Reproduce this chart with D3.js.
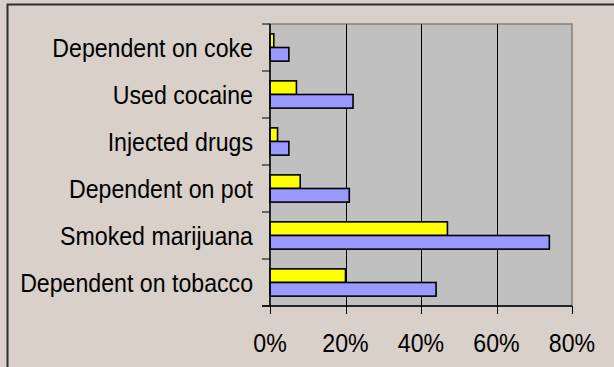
<!DOCTYPE html>
<html>
<head>
<meta charset="utf-8">
<script src="https://cdn.jsdelivr.net/npm/d3@7"></script>
<style>
  html, body { margin: 0; padding: 0; background: #d8d0c9; }
  svg { display: block; }
  text { font-family: "Liberation Sans", Arial, sans-serif; fill: #000; }
</style>
</head>
<body>
<svg id="chart" width="614" height="367"></svg>
<script>
const categories = ["Dependent on coke", "Used cocaine", "Injected drugs", "Dependent on pot", "Smoked marijuana", "Dependent on tobacco"];
const seriesNames = ["Series 1", "Series 2"];
const series1 = [0.01, 0.07, 0.02, 0.08, 0.47, 0.20];   // yellow
const series2 = [0.05, 0.22, 0.05, 0.21, 0.74, 0.44];   // blue
const xTicks = [0, 0.2, 0.4, 0.6, 0.8];
const colors = ["#ffff00", "#9999ff"];

const svg = d3.select("#chart");
const W = 614, H = 367;
const plot = { left: 270, right: 572, top: 24, bottom: 306 };

// background + frame
svg.append("rect").attr("width", W).attr("height", H).attr("fill", "#d8d0c9");
svg.append("path")
  .attr("d", `M7.5,${H} L7.5,4.5 L${W},4.5`)
  .attr("fill", "none").attr("stroke", "#2e2e2e").attr("stroke-width", 2);

const x = d3.scaleLinear().domain([0, 0.8]).range([plot.left, plot.right]);
const y = d3.scaleBand().domain(categories).range([plot.top, plot.bottom])
  .paddingInner(0.42).paddingOuter(0.21);
const ySub = d3.scaleBand().domain(seriesNames).range([0, y.bandwidth()]).padding(0);

// plot area
svg.append("rect")
  .attr("x", plot.left).attr("y", plot.top)
  .attr("width", plot.right - plot.left).attr("height", plot.bottom - plot.top)
  .attr("fill", "#c0c0c0").attr("stroke", "#808080").attr("stroke-width", 1.5);

// gridlines
svg.append("g").selectAll("line").data(xTicks.filter(d => d > 0 && d < 0.8)).join("line")
  .attr("x1", d => Math.round(x(d)) + 0.5).attr("x2", d => Math.round(x(d)) + 0.5)
  .attr("y1", plot.top).attr("y2", plot.bottom)
  .attr("stroke", "#000").attr("stroke-width", 1);

// bars
const data = categories.map((c, i) => ({ cat: c, vals: [series1[i], series2[i]] }));
const groups = svg.append("g").selectAll("g").data(data).join("g")
  .attr("transform", d => `translate(0,${y(d.cat)})`);
groups.selectAll("rect").data(d => d.vals.map((v, j) => ({ v, s: seriesNames[j], j }))).join("rect")
  .attr("x", x(0))
  .attr("y", d => ySub(d.s))
  .attr("width", d => x(d.v) - x(0))
  .attr("height", ySub.bandwidth())
  .attr("fill", d => colors[d.j])
  .attr("stroke", "#000").attr("stroke-width", 1.6);

// y axis
const yAxisG = svg.append("g");
yAxisG.append("line").attr("x1", plot.left).attr("x2", plot.left)
  .attr("y1", plot.top).attr("y2", plot.bottom).attr("stroke", "#000").attr("stroke-width", 1.5);
const yBounds = d3.range(categories.length + 1).map(i => plot.top + i * y.step());
yAxisG.selectAll("line.tick").data(yBounds).join("line").attr("class", "tick")
  .attr("x1", plot.left - 8).attr("x2", plot.left)
  .attr("y1", d => d).attr("y2", d => d)
  .attr("stroke", "#000").attr("stroke-width", 1);
yAxisG.selectAll("text").data(categories).join("text")
  .attr("transform", d => `translate(253,${y(d) + y.bandwidth() / 2}) scale(0.89,1)`)
  .attr("text-anchor", "end")
  .attr("dy", "0.36em")
  .attr("font-size", 26)
  .text(d => d);

// x axis
const xAxisG = svg.append("g");
xAxisG.append("line").attr("x1", plot.left - 8).attr("x2", plot.right)
  .attr("y1", plot.bottom).attr("y2", plot.bottom).attr("stroke", "#000").attr("stroke-width", 1.5);
xAxisG.selectAll("line.tick").data(xTicks).join("line").attr("class", "tick")
  .attr("x1", d => Math.round(x(d)) + 0.5).attr("x2", d => Math.round(x(d)) + 0.5)
  .attr("y1", plot.bottom).attr("y2", plot.bottom + 8)
  .attr("stroke", "#000").attr("stroke-width", 1);
xAxisG.selectAll("text").data(xTicks).join("text")
  .attr("transform", d => `translate(${x(d)},352) scale(0.89,1)`)
  .attr("text-anchor", "middle")
  .attr("font-size", 26)
  .text(d => d3.format(".0%")(d));
</script>
</body>
</html>
